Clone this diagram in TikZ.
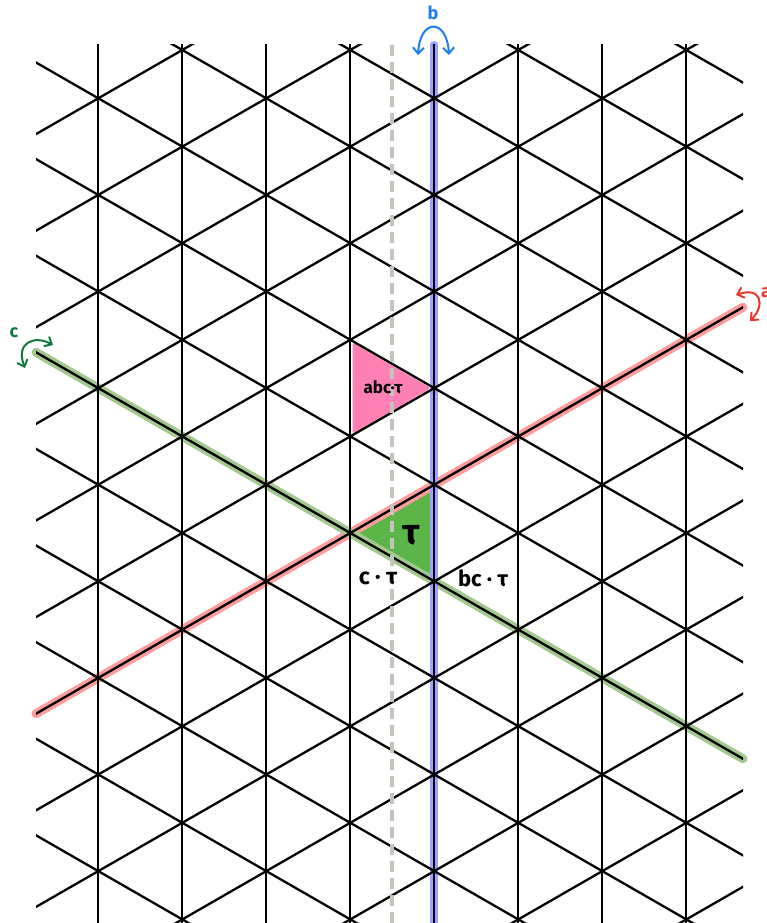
\documentclass[tikz,border=0pt]{standalone}
\usepackage{fontspec}
\setmainfont{Fira Sans}
\usetikzlibrary{arrows.meta}
\definecolor{gridblack}{HTML}{000000}
\definecolor{redhl}{HTML}{FF9C9C}
\definecolor{greenhl}{HTML}{A3C98F}
\definecolor{bluehl}{HTML}{A0A0FF}
\definecolor{pinkfill}{HTML}{FF80B4}
\definecolor{greenfill}{HTML}{5CB548}
\definecolor{dashgray}{HTML}{C4C4BC}
\definecolor{bluelab}{HTML}{1C7EF0}
\definecolor{greenlab}{HTML}{0E7A3E}
\definecolor{redlab}{HTML}{E8382C}
\tikzset{
  gridline/.style={line width=2.3pt, draw=gridblack},
  hl/.style={line width=9pt, line cap=round},
  rotarrow/.style={line width=2pt, line cap=round, {Straight Barb[length=6pt,width=11pt]}-{Straight Barb[length=6pt,width=11pt]}},
  lab/.style={inner sep=0pt, font=\bfseries},
}
\begin{document}
\begin{tikzpicture}[x=1pt,y=-1pt]
\useasboundingbox (0,0) rectangle (767,923);
% key vertices
\coordinate (P1) at (352.5,342.5);
\coordinate (P2) at (352.5,434);
\coordinate (P3) at (431,388.1);
\coordinate (G1) at (350.3,533);
\coordinate (G2) at (434.3,484.7);
\coordinate (G3) at (434.3,581.3);
\coordinate (R1) at (36,713.7);
\coordinate (R2) at (743,307.2);
\coordinate (C1) at (36,352.3);
\coordinate (C2) at (743,758.8);
\coordinate (B1) at (434.3,45);
\coordinate (B2) at (434.3,923);
\coordinate (D1) at (392.3,45);
\coordinate (D2) at (392.3,923);
% triangles
\fill[pinkfill, rounded corners=3pt] (P1) -- (P2) -- (P3) -- cycle;
\fill[greenfill] (G1) -- (G2) -- (G3) -- cycle;
% highlights
\draw[hl, redhl] (R1) -- (R2);
\draw[hl, greenhl] (C1) -- (C2);
\draw[hl, bluehl, line width=8pt] (B1) -- (B2);
% grid
\begin{scope}
\clip (36,45) rectangle (743,925);
\foreach \k in {0,...,7} \draw[gridline] ({98.3+84*\k},40) -- ({98.3+84*\k},930);
\foreach \m in {-6,...,10} \draw[gridline] (30,{98.3+0.575*(30-98.3)+96.6*\m}) -- (750,{98.3+0.575*(750-98.3)+96.6*\m});
\foreach \m in {-2,...,14} \draw[gridline] (30,{98.3-0.575*(30-98.3)+96.6*\m}) -- (750,{98.3-0.575*(750-98.3)+96.6*\m});
\end{scope}
% dashed mirror line
\draw[dashgray, line width=4pt, dash pattern=on 11pt off 6pt] (D1) -- (D2);
% labels in triangles
\node[lab, font=\bfseries\fontsize{17}{17}\selectfont] (tabc) at (383,387) {abc·τ};
\node[lab, font=\bfseries\fontsize{36}{36}\selectfont] (ttau) at (411,535) {τ};
\node[lab, font=\bfseries\fontsize{23}{23}\selectfont] (tc) at (378,578) {c · τ};
\node[lab, font=\bfseries\fontsize{22}{22}\selectfont] (tbc) at (483,578) {bc · τ};
% rotation arrows and labels
\draw[rotarrow, bluelab] (418,55) .. controls (420,18) and (447,18) .. (449,55);
\node[lab, bluelab, font=\bfseries\fontsize{18}{18}\selectfont] (lb) at (433,13) {b};
\draw[rotarrow, greenlab] (25,368) .. controls (15,342) and (35,335) .. (53,345);
\node[lab, greenlab, font=\bfseries\fontsize{18}{18}\selectfont] (lc) at (14,333) {c};
\draw[rotarrow, redlab] (736,295) .. controls (762,286) and (765,306) .. (750,321);
\node[lab, redlab, font=\bfseries\fontsize{18}{18}\selectfont, anchor=west] (la) at (761,293) {a};
\end{tikzpicture}
\end{document}
